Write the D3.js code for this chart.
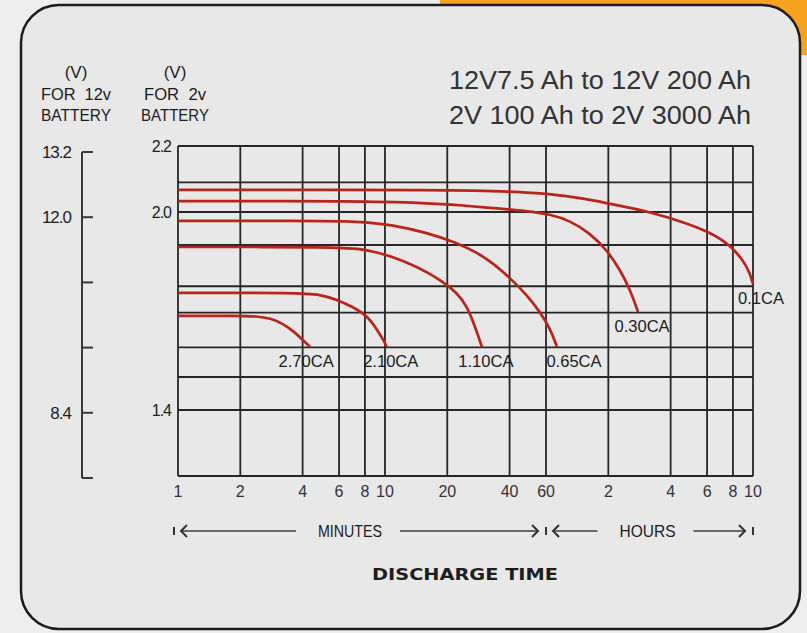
<!DOCTYPE html>
<html>
<head>
<meta charset="utf-8">
<script src="https://cdn.jsdelivr.net/npm/d3@7"></script>
<style>
  body { margin: 0; background: #eeeeee; }
  text { font-family: "Liberation Sans Narrow", "Liberation Sans", Arial, sans-serif; fill: #1c1c1c; }
</style>
</head>
<body>
<div class="chart"></div>
<script>
// Data: discharge time in minutes, cell voltage in V
var curveLabels = ["2.70CA", "2.10CA", "1.10CA", "0.65CA", "0.30CA", "0.1CA"];

var time270 = [1, 1.9, 2.4, 2.8, 3.2, 3.6, 4.0, 4.35];
var volt270 = [1.685, 1.686, 1.684, 1.678, 1.662, 1.640, 1.613, 1.591];

var time210 = [1, 3.9, 4.85, 5.85, 7.0, 7.8, 8.5, 9.25, 9.9, 10.2];
var volt210 = [1.755, 1.755, 1.750, 1.735, 1.712, 1.694, 1.673, 1.639, 1.609, 1.591];

var time110 = [1, 6.0, 7.6, 9.15, 10.9, 13.2, 16.0, 19.1, 22.3, 24.9, 26.6, 28.1, 29.4];
var volt110 = [1.894, 1.894, 1.888, 1.878, 1.864, 1.843, 1.818, 1.788, 1.755, 1.714, 1.669, 1.628, 1.591];

var time065 = [1, 3.9, 7.6, 10.9, 16.0, 22.3, 27.8, 33.3, 40.2, 48.6, 56.1, 62.7, 67.8];
var volt065 = [1.973, 1.973, 1.972, 1.961, 1.937, 1.907, 1.877, 1.845, 1.800, 1.748, 1.697, 1.648, 1.591];

var time030 = [1, 7.6, 16.0, 23.0, 33.3, 48.6, 62.7, 78.3, 97.8, 118, 137, 153, 167];
var volt030 = [2.033, 2.033, 2.027, 2.021, 2.012, 2.003, 1.993, 1.974, 1.936, 1.885, 1.824, 1.764, 1.697];

var time010 = [1, 23.0, 40.2, 62.7, 90.5, 132, 191, 275, 371, 464, 536, 580, 600];
var volt010 = [2.067, 2.067, 2.062, 2.055, 2.042, 2.021, 2.000, 1.970, 1.939, 1.900, 1.855, 1.815, 1.782];

var minuteTicks = [1, 2, 4, 6, 8, 10, 20, 40, 60];
var hourTicks = [2, 4, 6, 8, 10];
var gridVolts = [2.2, 2.09, 2.0, 1.9, 1.775, 1.695, 1.59, 1.5, 1.4, 1.2];
var volt2Labels = [2.2, 2.0, 1.4];
var volt12Ticks = [13.2, 12.0, 10.8, 9.6, 8.4, 7.2];
var volt12Labels = [13.2, 12.0, 8.4];
var titleLines = ["12V7.5 Ah to 12V 200 Ah", "2V 100 Ah to 2V 3000 Ah"];

var svgWidth = 807;
var svgHeight = 633;

var svg = d3.select(".chart")
  .append("svg")
  .attr("width", svgWidth)
  .attr("height", svgHeight)
  .style("display", "block");

// background + orange tab behind the top right corner
svg.append("rect")
  .attr("width", svgWidth).attr("height", svgHeight)
  .attr("fill", "#eeeeee");

svg.append("rect")
  .attr("x", 440).attr("y", 0)
  .attr("width", svgWidth - 440).attr("height", 55)
  .attr("fill", "#f5a21e");

svg.append("rect")
  .attr("x", 21).attr("y", 5)
  .attr("width", 779).attr("height", 624)
  .attr("rx", 38).attr("ry", 38)
  .attr("fill", "#e8e8e9")
  .attr("stroke", "#1c1c1c")
  .attr("stroke-width", 2.5);

// Scales
var x = d3.scaleLog().domain([1, 600]).range([178, 753]);
var y = d3.scaleLinear().domain([1.2, 2.2]).range([476, 146]);
var y12 = d3.scaleLinear().domain([7.2, 13.2]).range([478, 152]);

var allTicks = minuteTicks.concat(hourTicks.map(h => h * 60));

// Grid
var grid = svg.append("g")
  .attr("stroke", "#262626")
  .attr("stroke-width", 1.8);

grid.selectAll("line.v").data(allTicks).enter()
  .append("line")
  .attr("x1", d => x(d)).attr("x2", d => x(d))
  .attr("y1", y(2.2)).attr("y2", y(1.2));

grid.selectAll("line.h").data(gridVolts).enter()
  .append("line")
  .attr("x1", x(1)).attr("x2", x(600))
  .attr("y1", d => y(d)).attr("y2", d => y(d));

// Curves
var series = [
  [time270, volt270], [time210, volt210], [time110, volt110],
  [time065, volt065], [time030, volt030], [time010, volt010]
];
var labelDx = [-4, 4, 4, 17, 4, 8];

var line = d3.line()
  .x(d => x(d[0]))
  .y(d => y(d[1]))
  .curve(d3.curveBasis);

series.forEach(function(s, i) {
  var pts = s[0].map((t, j) => [t, s[1][j]]);
  svg.append("path")
    .attr("d", line(pts))
    .attr("fill", "none")
    .attr("stroke", "#b9251b")
    .attr("stroke-width", 2.7);

  var last = pts[pts.length - 1];
  svg.append("text")
    .attr("x", x(last[0]) + labelDx[i])
    .attr("y", y(last[1]) + 20)
    .attr("text-anchor", "middle")
    .attr("textLength", curveLabels[i].length * 9.2)
    .attr("lengthAdjust", "spacingAndGlyphs")
    .style("font-size", "16px")
    .text(curveLabels[i]);
});

// x tick labels
var xLabels = minuteTicks.map(m => ({ v: m, t: String(m) }))
  .concat(hourTicks.map(h => ({ v: h * 60, t: String(h) })));

svg.selectAll("text.xl").data(xLabels).enter()
  .append("text")
  .attr("x", d => x(d.v))
  .attr("y", 497)
  .attr("text-anchor", "middle")
  .style("font-size", "16px")
  .style("fill", "#333")
  .text(d => d.t);

// 2V labels
svg.selectAll("text.y2").data(volt2Labels).enter()
  .append("text")
  .attr("x", 171)
  .attr("y", d => y(d) + 6)
  .attr("text-anchor", "end")
  .style("font-size", "16px")
  .style("letter-spacing", "-1px")
  .text(d => d.toFixed(1));

// 12V bracket axis
svg.append("line")
  .attr("x1", 82).attr("x2", 82)
  .attr("y1", y12(13.2)).attr("y2", y12(7.2))
  .attr("stroke", "#3a3a3a").attr("stroke-width", 2);

svg.selectAll("line.t12").data(volt12Ticks).enter()
  .append("line")
  .attr("x1", 82).attr("x2", 93)
  .attr("y1", d => y12(d)).attr("y2", d => y12(d))
  .attr("stroke", "#3a3a3a").attr("stroke-width", 2);

svg.selectAll("text.y12").data(volt12Labels).enter()
  .append("text")
  .attr("x", 71)
  .attr("y", d => y12(d) + 6)
  .attr("text-anchor", "end")
  .style("font-size", "17px")
  .style("letter-spacing", "-1px")
  .text(d => d.toFixed(1));

// axis headers
var headers = [
  { cx: 76, lines: ["(V)", "FOR  12v", "BATTERY"], w: [null, 70, 70] },
  { cx: 175, lines: ["(V)", "FOR  2v", "BATTERY"], w: [null, 62, 68] }
];
headers.forEach(function(h) {
  h.lines.forEach(function(t, i) {
    var el = svg.append("text")
      .attr("x", h.cx)
      .attr("y", 78 + i * 21.5)
      .attr("text-anchor", "middle")
      .style("font-size", "17px")
      .style("white-space", "pre")
      .text(t);
    if (h.w[i]) el.attr("textLength", h.w[i]).attr("lengthAdjust", "spacingAndGlyphs");
  });
});

// title
titleLines.forEach(function(t, i) {
  svg.append("text")
    .attr("x", 751)
    .attr("y", 89 + i * 35)
    .attr("text-anchor", "end")
    .attr("textLength", 302)
    .attr("lengthAdjust", "spacingAndGlyphs")
    .style("font-family", "'Liberation Sans', Arial, sans-serif")
    .style("font-size", "25px")
    .style("fill", "#333")
    .text(t);
});

// MINUTES / HOURS arrows
var spans = [
  { label: "MINUTES", from: 1, to: 60, shift: -12, half: 32 },
  { label: "HOURS", from: 60, to: 600, shift: -2, half: 28 }
];
var arrowY = 531;
var arr = svg.append("g").attr("stroke", "#6a6a6a").attr("fill", "none").attr("stroke-width", 2);

spans.forEach(function(s, i) {
  var a = x(s.from) + (i === 0 ? -4 : 0);
  var b = x(s.to) - (i === 0 ? 0 : 0);
  var c = (x(s.from) + x(s.to)) / 2 + s.shift;

  // one shared bar between minutes and hours
  if (i === 0) {
    arr.append("line").attr("x1", a).attr("x2", a).attr("y1", arrowY - 4).attr("y2", arrowY + 4).attr("stroke", "#333");
  }
  arr.append("line").attr("x1", b).attr("x2", b).attr("y1", arrowY - 4).attr("y2", arrowY + 4).attr("stroke", "#333");

  arr.append("line").attr("x1", a + 7).attr("x2", c - s.half - 22).attr("y1", arrowY).attr("y2", arrowY);
  arr.append("line").attr("x1", c + s.half + 18).attr("x2", b - 8).attr("y1", arrowY).attr("y2", arrowY);
  arr.append("path").attr("d", `M${a + 13},${arrowY - 6} L${a + 7},${arrowY} L${a + 13},${arrowY + 6}`).attr("stroke", "#333");
  arr.append("path").attr("d", `M${b - 14},${arrowY - 6} L${b - 8},${arrowY} L${b - 14},${arrowY + 6}`).attr("stroke", "#333");

  svg.append("text")
    .attr("x", c)
    .attr("y", arrowY + 6)
    .attr("text-anchor", "middle")
    .attr("textLength", s.half * 2)
    .attr("lengthAdjust", "spacingAndGlyphs")
    .style("font-size", "17px")
    .text(s.label);
});

// Axis title
svg.append("text")
  .attr("x", 465)
  .attr("y", 580)
  .attr("text-anchor", "middle")
  .attr("textLength", 186)
  .attr("lengthAdjust", "spacingAndGlyphs")
  .style("font-family", "'DejaVu Sans', 'Liberation Sans', sans-serif")
  .style("font-weight", "bold")
  .style("font-size", "15px")
  .style("fill", "#1e1e1e")
  .text("DISCHARGE TIME");
</script>
</body>
</html>
